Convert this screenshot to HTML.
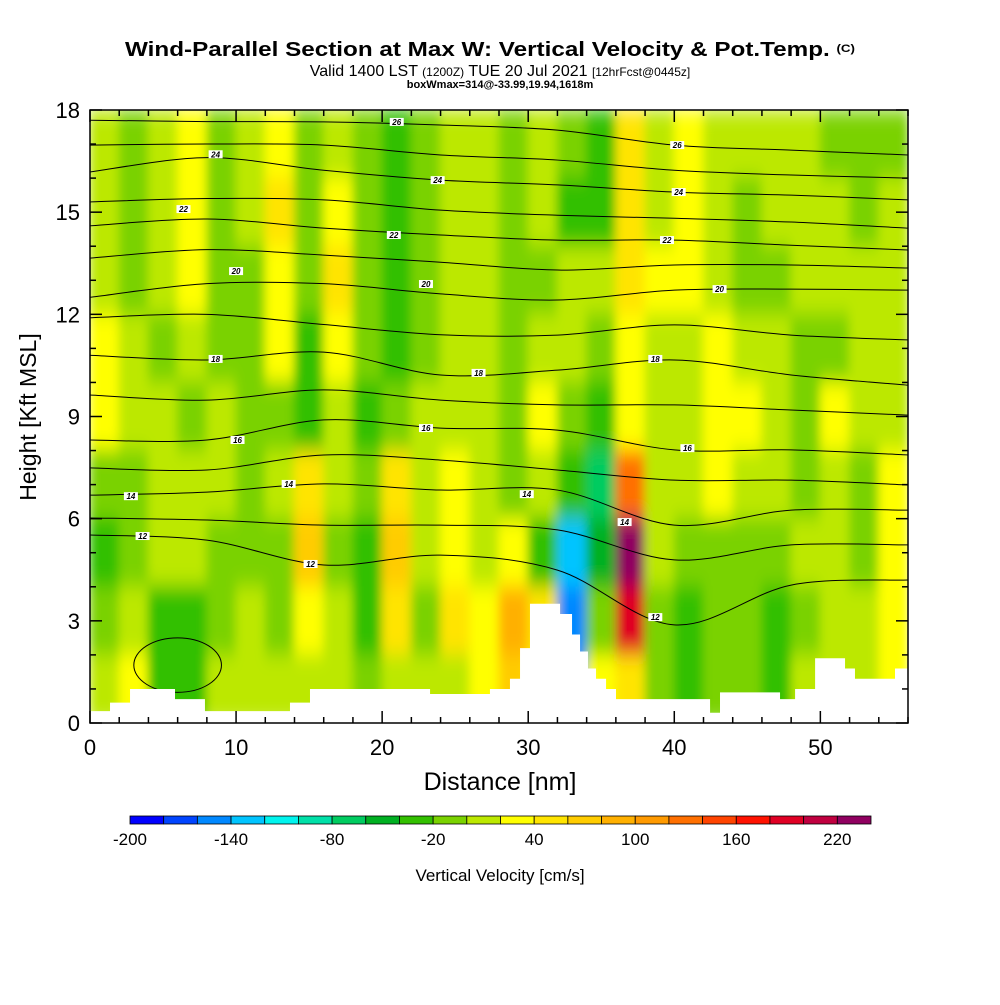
<!DOCTYPE html>
<html><head><meta charset="utf-8">
<style>
body{margin:0;background:#fff;}
svg text{font-family:"Liberation Sans",sans-serif;}
</style></head>
<body>
<svg id="chart" width="1000" height="1000" viewBox="0 0 1000 1000" xmlns="http://www.w3.org/2000/svg">
<defs>
<clipPath id="plotclip"><rect x="90" y="110" width="818" height="613"/></clipPath>
<filter id="blur" x="-5%" y="-5%" width="110%" height="110%"><feGaussianBlur stdDeviation="5 10" edgeMode="duplicate"/></filter>
</defs>
<rect width="1000" height="1000" fill="#fff"/>
<text x="490" y="56" text-anchor="middle" font-size="20" font-weight="bold" textLength="730" lengthAdjust="spacingAndGlyphs">Wind-Parallel Section at Max W: Vertical Velocity &amp; Pot.Temp. <tspan font-size="11" dy="-4">(C)</tspan></text>
<text x="500" y="76" text-anchor="middle" font-size="16">Valid 1400 LST <tspan font-size="12">(1200Z)</tspan> TUE 20 Jul 2021 <tspan font-size="12">[12hrFcst@0445z]</tspan></text>
<text x="500" y="88" text-anchor="middle" font-size="11" font-weight="bold">boxWmax=314@-33.99,19.94,1618m</text>
<g id="field" clip-path="url(#plotclip)"><g id="cells" filter="url(#blur)"></g></g>
<g id="contours" clip-path="url(#plotclip)"></g>
<g id="terrain"></g>
<g id="clabels"></g>
<rect x="90" y="110" width="818" height="613" fill="none" stroke="#000" stroke-width="1.5"/>
<g id="axes"></g>
<g id="colorbar"></g>
<text x="500" y="790" text-anchor="middle" font-size="25">Distance [nm]</text>
<text transform="translate(36,417) rotate(-90)" text-anchor="middle" font-size="23">Height [Kft MSL]</text>
<text x="500" y="881" text-anchor="middle" font-size="17">Vertical Velocity [cm/s]</text>
</svg>
<script>
// ---- data ----
const colBins = [-200,-180,-160,-140,-120,-100,-80,-60,-40,-20,0,20,40,60,80,100,120,140,160,180,200,220,240];
const binColors = ["#0000ff","#0044ff","#0088ff","#00c4ff","#00f4ee","#00e0a8","#00cc60","#00b022","#33c000","#7ad200","#bce800","#ffff00","#ffe400","#ffcc00","#ffb000","#ff9a00","#ff7000","#ff4400","#ff1200","#e00024","#c00040","#900060"];
const cbLabels = [-200,-140,-80,-20,40,100,160,220];
const xTicks = [0,10,20,30,40,50];
const yTicks = [0,3,6,9,12,15,18];
// grid: 28 cols (2nm), 9 rows (2kft), rows listed top (16-18) to bottom (0-2)
const wRows = [
[10,-10,10,30,-10,10,20,-10,10,-10,-30,-10,10,10, -10,10,-10,-30,50,10,20,10,10,10,10,-10,-10,-10],
[10,-10,10,30,-10,10,40,-10,30,-10,-30,-10,10,10, -10,10,-30,-30,50,10,30,10,-10,10,10,10,-10,10],
[10,-10,10,30,-10,-10,30,-10,40,-10,-30,-10,10,10, -10,-10,10,10,40,30,30,10,-10,-10,10,10,10,10],
[30,10,-10,10,-10,-10,30,-30,30,-10,-30,-10,10,10, -10,10,10,-10,30,10,10,20,10,10,-10,-10,10,10],
[30,10,10,-10,10,-10,-10,-40,10,-30,-10,10,10,10, -10,30,-10,-30,30,10,10,30,20,10,-10,30,10,10],
[-10,-10,10,10,10,-10,10,40,10,-10,40,10,30,10, -10,10,-40,-80,120,10,10,30,10,10,-10,10,-10,30],
[-30,-10,10,10,-10,-10,-10,60,-10,-40,60,10,30,10, 30,-40,-140,-60,220,10,-10,-10,-10,-10,10,10,-10,30],
[-10,10,-30,-30,-10,10,-10,30,10,-30,40,-10,40,30, 80,40,-160,-10,180,-10,-30,-10,-10,-30,-10,10,10,30],
[10,30,-30,-30,10,10,10,10,10,-10,10,10,10,30, 60,30,-150,20,40,-10,-30,-10,-10,-30,10,10,10,30]
];
const thetaX = [0,8,16,24,32,40,48,56];
const th26 = [17.7,17.66,17.65,17.56,17.41,16.97,16.82,16.68];
const th25 = [16.97,17.0,16.97,16.68,16.53,16.23,16.09,16.0];
const th24 = [16.18,16.6,16.23,15.94,15.80,15.59,15.5,15.36];
const th23 = [15.3,15.4,15.36,15.06,14.91,14.82,14.71,14.53];
const th22 = [14.6,14.8,14.53,14.33,14.18,14.18,14.03,13.89];
const th21 = [13.65,13.9,13.74,13.53,13.30,13.45,13.45,13.36];
const th20 = [12.5,12.9,12.9,12.6,12.42,12.71,12.74,12.71];
const th19 = [11.9,12.0,11.7,11.4,11.39,11.69,11.39,11.25];
const th18 = [10.80,10.66,10.89,10.22,10.36,10.66,10.22,9.92];
const th17 = [9.63,9.48,9.78,9.48,9.34,9.34,9.19,9.04];
const th16 = [8.31,8.31,8.90,8.66,8.60,8.02,8.02,7.87];
const th15 = [7.49,7.43,7.87,7.72,7.43,7.13,7.13,6.99];
const th14 = [6.69,6.78,7.02,6.84,6.84,5.81,6.25,6.25];
const th13 = [6.02,5.96,5.81,5.81,5.67,4.79,5.23,5.23];
const th12 = [5.52,5.37,4.64,4.93,4.49,2.88,4.05,4.20];
const thetaLines = [th26,th25,th24,th23,th22,th21,th20,th19,th18,th17,th16,th15,th14,th13,th12];
const labelText = ["26","26","24","24","24","22","22","22","20","20","20","18","18","18","16","16","16","14","14","14","14","12","12","12"];
const labelX = [21.0,40.2,8.6,23.8,40.3,6.4,20.8,39.5,10.0,23.0,43.1,8.6,26.6,38.7,10.1,23.0,40.9,2.8,13.6,29.9,36.6,3.6,15.1,38.7];
const labelY = [17.65,16.97,16.7,15.94,15.59,15.09,14.33,14.18,13.27,12.89,12.74,10.69,10.28,10.69,8.31,8.66,8.07,6.66,7.02,6.72,5.9,5.49,4.67,3.11];
const terrainStart = [0,1.37,2.74,5.82,7.87,13.69,15.06,23.28,27.38,28.75,29.44,30.12,32.18,33.0,33.55,34.09,34.64,35.33,36.01,39.02,42.45,43.13,47.24,48.27,49.64,51.69,52.37,55.11];
const terrainH = [0.35,0.6,1.0,0.7,0.35,0.6,1.0,0.85,1.0,1.3,2.2,3.5,3.2,2.6,2.1,1.6,1.3,1.0,0.7,0.7,0.3,0.9,0.7,1.0,1.9,1.6,1.3,1.6];

// ---- scales ----
const X0=90,X1=908,Y0=723,Y1=110;
const sx = v => X0 + (v/56)*(X1-X0);
const sy = v => Y0 - (v/18)*(Y0-Y1);
const NS="http://www.w3.org/2000/svg";
function mk(tag, attrs, parent){const e=document.createElementNS(NS,tag);for(const k in attrs)e.setAttribute(k,attrs[k]);parent.appendChild(e);return e;}
function colorFor(v){let i=Math.floor((v-colBins[0])/20);i=Math.max(0,Math.min(binColors.length-1,i));return binColors[i];}

// field
const cells=document.getElementById('cells');
wRows.forEach((row,ri)=>{
  const top=18-ri*2, bot=top-2;
  row.forEach((v,ci)=>{
    const r=mk('rect',{x:sx(ci*2)-0.5,y:sy(top)-0.5,width:sx(2)-sx(0)+1,height:sy(bot)-sy(top)+1,fill:colorFor(v)},cells);
    
    
  });
});
// contours
const cg=document.getElementById('contours');
function smoothPath(xs,ys){
  const p=xs.map((x,i)=>[sx(x),sy(ys[i])]);
  let d=`M${p[0][0]},${p[0][1]}`;
  for(let i=0;i<p.length-1;i++){
    const p0=p[Math.max(0,i-1)],p1=p[i],p2=p[i+1],p3=p[Math.min(p.length-1,i+2)];
    const c1=[p1[0]+(p2[0]-p0[0])/6,p1[1]+(p2[1]-p0[1])/6];
    const c2=[p2[0]-(p3[0]-p1[0])/6,p2[1]-(p3[1]-p1[1])/6];
    d+=`C${c1[0]},${c1[1]} ${c2[0]},${c2[1]} ${p2[0]},${p2[1]}`;
  }
  return d;
}
thetaLines.forEach(ys=>{
  const l=mk('path',{d:smoothPath(thetaX,ys),fill:'none',stroke:'#000','stroke-width':1},cg);
  
  
});
const ov=mk('ellipse',{cx:sx(6),cy:sy(1.7),rx:sx(3)-sx(0),ry:sy(0)-sy(0.8),fill:'none',stroke:'#000','stroke-width':1},cg);


// terrain
const tg=document.getElementById('terrain');
let td=`M${sx(0)},${sy(0)}`;
terrainStart.forEach((s,i)=>{
  const e=i<terrainStart.length-1?terrainStart[i+1]:56;
  td+=`L${sx(s)},${sy(terrainH[i])}L${sx(e)},${sy(terrainH[i])}`;
});
td+=`L${sx(56)},${sy(0)}Z`;
const tp=mk('path',{d:td,fill:'#fff',stroke:'none'},tg);


// contour labels
const lg=document.getElementById('clabels');
labelText.forEach((t,i)=>{
  const x=sx(labelX[i]),y=sy(labelY[i]);
  const r=mk('rect',{x:x-7,y:y-4,width:14,height:8,fill:'#fff'},lg);
  
  
  const tx=mk('text',{x:x,y:y+3,'text-anchor':'middle','font-size':8,'font-weight':'bold','font-style':'italic'},lg);
  tx.textContent=t;
  
  
});
// axes
const ag=document.getElementById('axes');
for(let v=0;v<=56;v+=2){
  const maj=v%10===0, len=maj?12:6;
  const a=mk('line',{x1:sx(v),x2:sx(v),y1:Y0,y2:Y0-len,stroke:'#000','stroke-width':1.5},ag);
  
  const b=mk('line',{x1:sx(v),x2:sx(v),y1:Y1,y2:Y1+len,stroke:'#000','stroke-width':1.5},ag);
  
}
for(let v=0;v<=18;v+=1){
  const maj=v%3===0, len=maj?12:6;
  const a=mk('line',{x1:X0,x2:X0+len,y1:sy(v),y2:sy(v),stroke:'#000','stroke-width':1.5},ag);
  
  const b=mk('line',{x1:X1,x2:X1-len,y1:sy(v),y2:sy(v),stroke:'#000','stroke-width':1.5},ag);
  
}
xTicks.forEach(v=>{
  const t=mk('text',{x:sx(v),y:755,'text-anchor':'middle','font-size':22},ag);t.textContent=v;
  
});
yTicks.forEach(v=>{
  const t=mk('text',{x:80,y:sy(v)+8,'text-anchor':'end','font-size':22},ag);t.textContent=v;
  
});
// colorbar
const cbg=document.getElementById('colorbar');
const CB0=130,CB1=871,cbY=816,cbH=8;
const bw=(CB1-CB0)/binColors.length;
binColors.forEach((c,i)=>{
  const r=mk('rect',{x:CB0+i*bw,y:cbY,width:bw,height:cbH,fill:c,stroke:'#000','stroke-width':0.8},cbg);
  
});
cbLabels.forEach(v=>{
  const i=(v-colBins[0])/20;
  const t=mk('text',{x:CB0+i*bw,y:845,'text-anchor':'middle','font-size':17},cbg);t.textContent=v;
  
});
</script>
</body></html>
